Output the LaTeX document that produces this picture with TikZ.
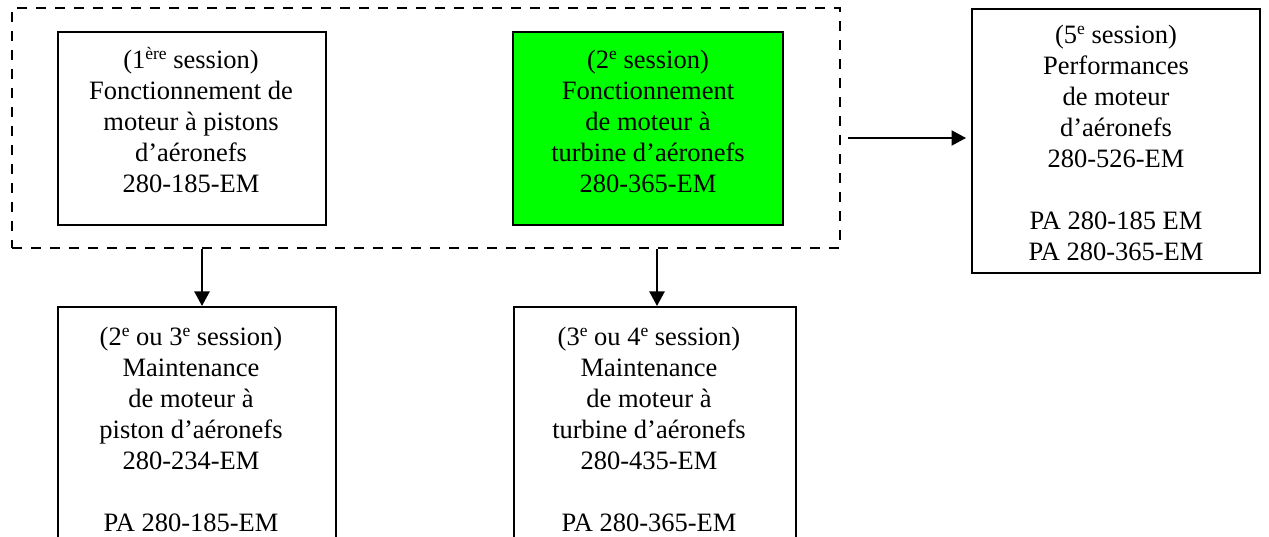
\documentclass[tikz,border=0pt]{standalone}
\usepackage{fontspec}
\setmainfont{Liberation Serif}
\usetikzlibrary{arrows.meta}
\definecolor{boxgreen}{RGB}{0,255,0}
\newcommand\supx[1]{\raisebox{8.7pt}{\fontsize{17.5}{17.5}\selectfont #1}}
\tikzset{
  box/.style={draw=black, line width=2pt, rectangle, inner sep=0pt},
  grpbox/.style={draw=black, line width=2.7pt, dash pattern=on 10pt off 9pt, rectangle, inner sep=0pt},
  txt/.style={align=center, inner sep=0pt, anchor=north, font=\fontsize{26.5}{31}\selectfont},
  arr/.style={line width=2.2pt, -{Triangle[length=14.5pt,width=15pt]}},
}
\begin{document}
\begin{tikzpicture}[x=1pt,y=-1pt]
\useasboundingbox (0,0) rectangle (1269,537);
% dashed group
\node[grpbox, minimum width=828pt, minimum height=240pt] (grp) at (426,128) {};
% top boxes
\node[box, minimum width=268pt, minimum height=193pt] (p1) at (192,128.5) {};
\node[box, fill=boxgreen, minimum width=270pt, minimum height=193pt] (p2) at (648,128.5) {};
\node[box, minimum width=288pt, minimum height=264pt] (p5) at (1116,141) {};
% bottom boxes
\node[box, minimum width=278pt, minimum height=260pt] (b1) at (197,437) {};
\node[box, minimum width=282pt, minimum height=260pt] (b2) at (655,437) {};
% texts
\node[txt] (t1) at (191,47.4) {(1\supx{ère} session)\\Fonctionnement de\\moteur à pistons\\d’aéronefs\\280-185-EM};
\node[txt] (t2) at (648,50) {(2\supx{e} session)\\Fonctionnement\\de moteur à\\turbine d’aéronefs\\280-365-EM};
\node[txt] (t5) at (1116,25) {(5\supx{e} session)\\Performances\\de moteur\\d’aéronefs\\280-526-EM\\[31pt]PA 280-185 EM\\PA 280-365-EM};
\node[txt] (tb1) at (191,327) {(2\supx{e} ou 3\supx{e} session)\\Maintenance\\de moteur à\\piston d’aéronefs\\280-234-EM\\[31pt]PA 280-185-EM};
\node[txt] (tb2) at (649,327) {(3\supx{e} ou 4\supx{e} session)\\Maintenance\\de moteur à\\turbine d’aéronefs\\280-435-EM\\[31pt]PA 280-365-EM};
% connectors
\coordinate (a1) at ([xshift=5pt]b1.north);
\coordinate (a2) at ([xshift=2pt]b2.north);
\coordinate (a5) at ([yshift=3pt]p5.west);
\draw[arr] (grp.south -| a1) -- (a1);
\draw[arr] (grp.south -| a2) -- (a2);
\draw[arr, shorten <=7pt, shorten >=5pt] (grp.east |- a5) -- (a5);
\end{tikzpicture}
\end{document}
